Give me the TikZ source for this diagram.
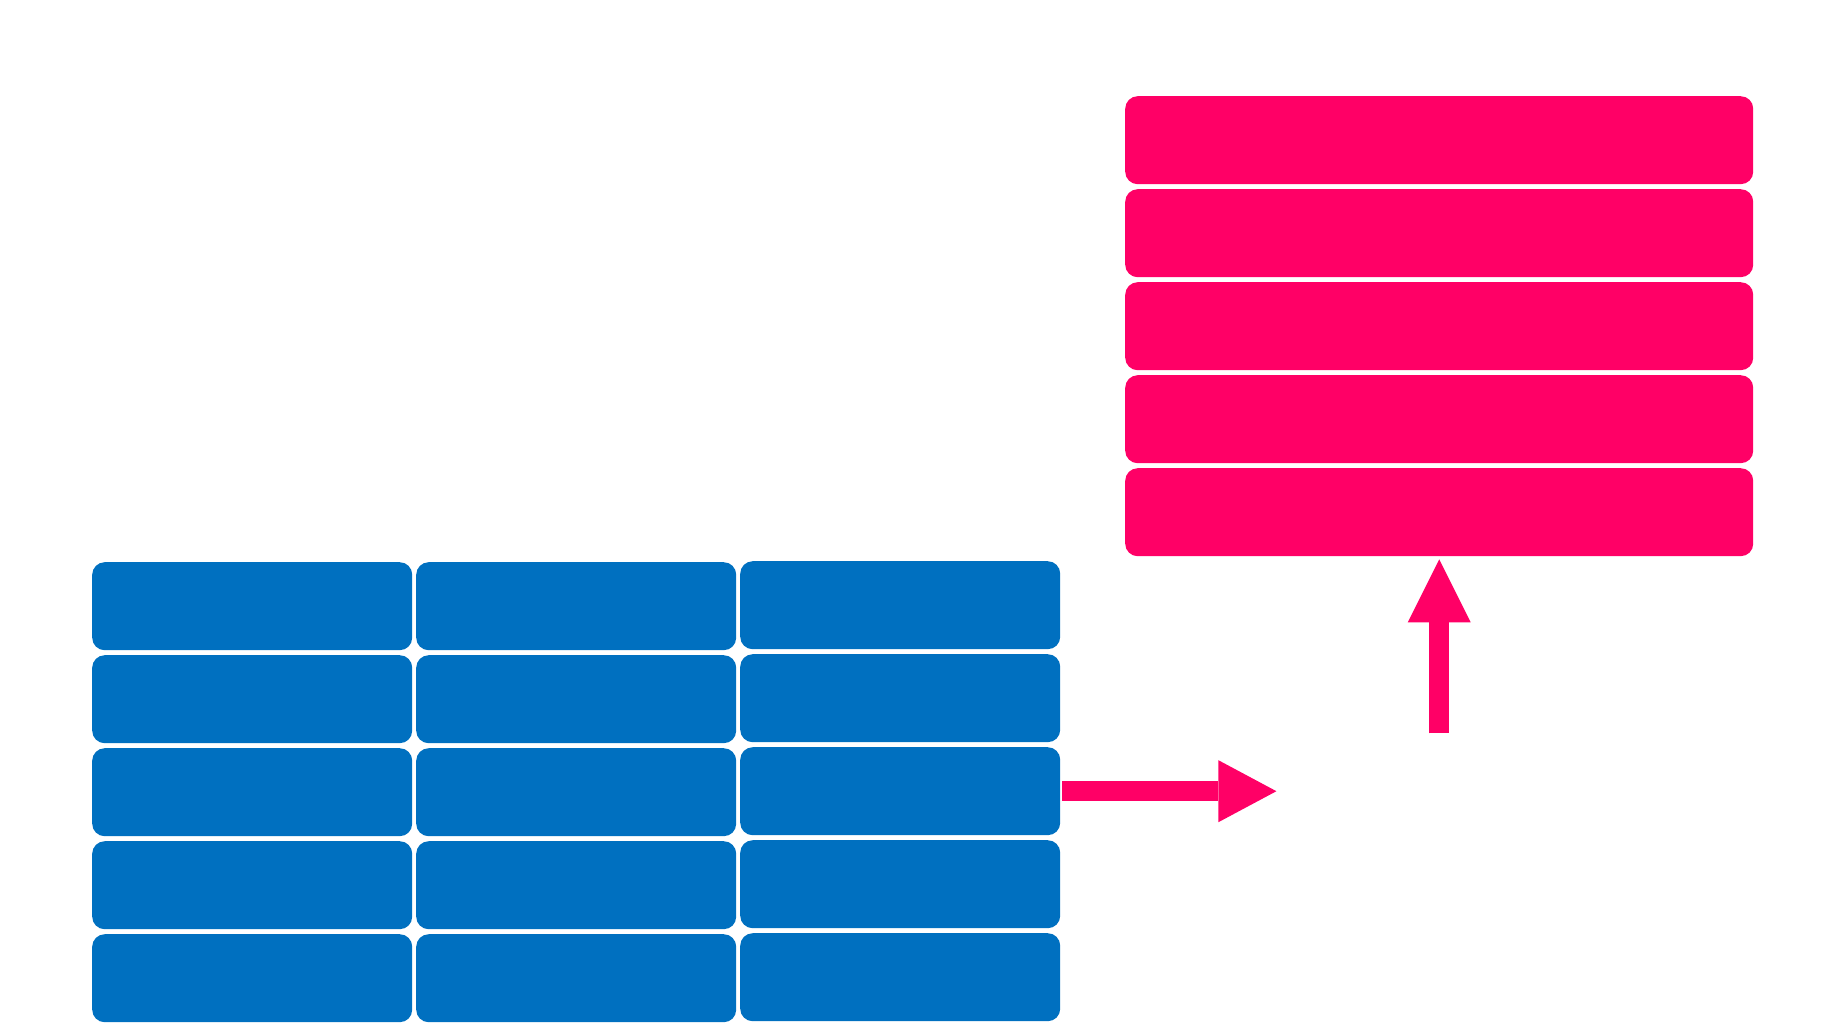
\documentclass[tikz,border=0pt]{standalone}
\usetikzlibrary{arrows.meta}
\definecolor{tileblue}{HTML}{0070C0}
\definecolor{hotpink}{HTML}{FF0066}

\begin{document}
\begin{tikzpicture}[x=1pt, y=1pt,
    cell/.style={rectangle, rounded corners=12.5pt, fill=tileblue, minimum width=320pt,
      minimum height=88pt, inner sep=0pt, anchor=north west},
    bar/.style={cell, fill=hotpink, minimum width=628pt},
    flow/.style={hotpink, line width=20.5pt}]
  \useasboundingbox (0,0) rectangle (1843,-1027);
  % grid of tiles and the stack of bars
  \foreach \r in {1,...,5} {
    \node[cell] (a\r) at (92,{-562-93*(\r-1)}) {};
    \node[cell] (b\r) at (416,{-562-93*(\r-1)}) {};
    \node[cell] (c\r) at (740,{-561-93*(\r-1)}) {};
    \node[bar] (p\r) at (1125,{-96-93*(\r-1)}) {};
  }
  \coordinate (out) at ([xshift=216pt]c3.east);
  \coordinate (src) at ([yshift=-177pt]p5.south);
  \draw[flow, -{Triangle[length=58pt,width=62pt,line width=0pt]}] ([xshift=2pt]c3.east) -- (out);
  \draw[flow, -{Triangle[length=63pt,width=63pt,line width=0pt]}, shorten >=3pt] (src) -- (p5.south);
\end{tikzpicture}
\end{document}
